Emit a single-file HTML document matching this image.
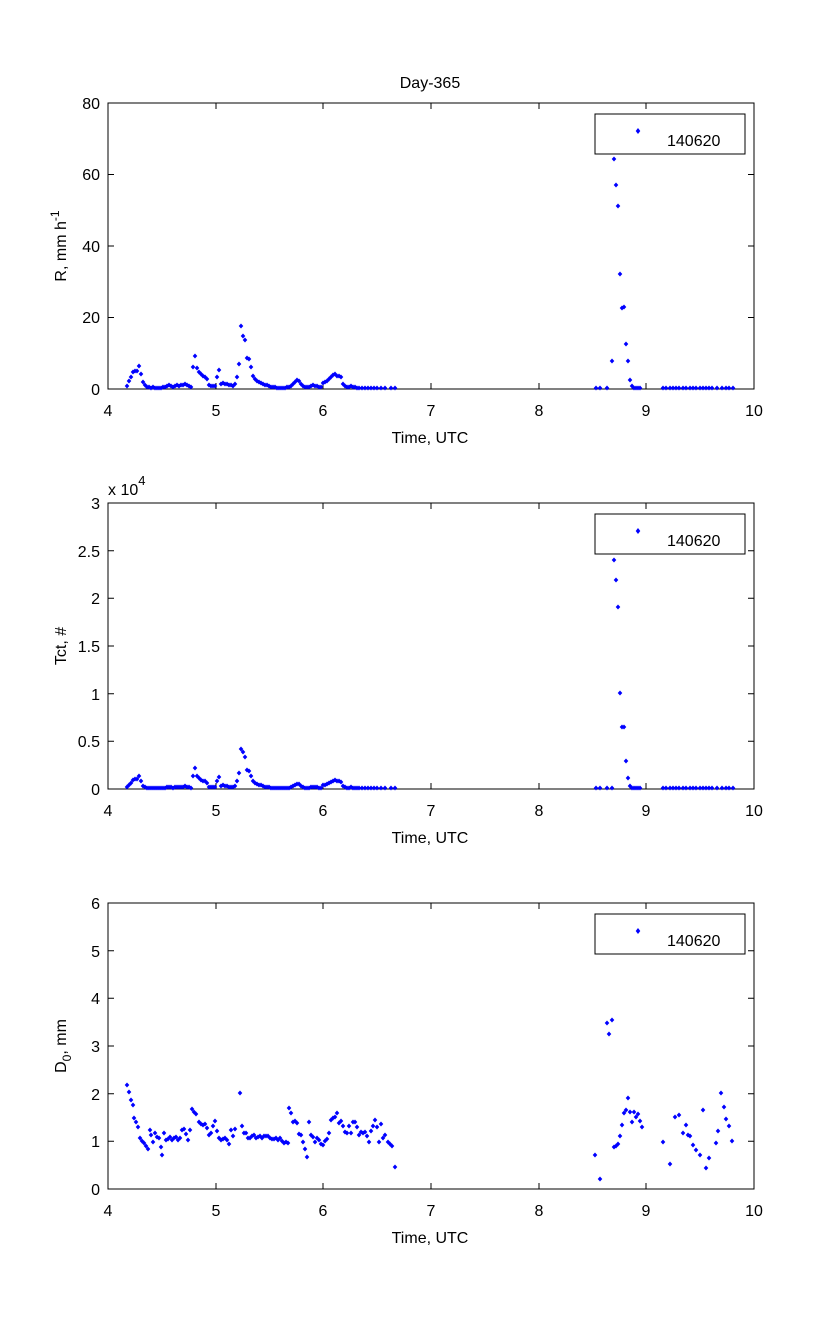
<!DOCTYPE html>
<html><head><meta charset="utf-8"><style>
body{margin:0;background:#fff}
svg text{font-family:"Liberation Sans",sans-serif;font-size:16px;fill:#000}
.d{fill:none;stroke:none;marker-start:url(#m);marker-mid:url(#m);marker-end:url(#m)}
</style></head><body>
<svg width="833" height="1334" xmlns="http://www.w3.org/2000/svg">
<defs><marker id="m" markerWidth="6" markerHeight="6" refX="3" refY="3" markerUnits="userSpaceOnUse"><path d="M3 0.5L5.3 3L3 5.5L0.7 3Z" fill="#00f"/></marker></defs>
<rect width="833" height="1334" fill="#fff"/>
<text x="430" y="88" text-anchor="middle">Day-365</text>

<!-- Plot 1 -->
<g stroke="#000" fill="none">
<rect x="108" y="103" width="646" height="286"/>
<path d="M108 389v-6M216 389v-6M323 389v-6M431 389v-6M539 389v-6M646 389v-6M754 389v-6M108 103v6M216 103v6M323 103v6M431 103v6M539 103v6M646 103v6M754 103v6
M108 389h6M108 317.5h6M108 246h6M108 174.5h6M108 103h6M754 389h-6M754 317.5h-6M754 246h-6M754 174.5h-6M754 103h-6"/>
</g>
<g text-anchor="middle"><text x="108" y="416">4</text><text x="216" y="416">5</text><text x="323" y="416">6</text><text x="431" y="416">7</text><text x="539" y="416">8</text><text x="646" y="416">9</text><text x="754" y="416">10</text></g>
<g text-anchor="end"><text x="100" y="395">0</text><text x="100" y="323">20</text><text x="100" y="252">40</text><text x="100" y="180">60</text><text x="100" y="109">80</text></g>
<text x="430" y="443" text-anchor="middle">Time, UTC</text>
<text transform="translate(66,246) rotate(-90)" text-anchor="middle">R, mm h<tspan dy="-7" font-size="12">-1</tspan></text>
<rect x="595" y="114" width="150" height="40" fill="#fff" stroke="#000"/>
<path d="M638 128l2.3 3l-2.3 3l-2.3-3z" fill="#00f"/>
<text x="667" y="146">140620</text>
<polyline class="d" points="127,386 129,381 131,377 133,372 135,371 137,371 139,366 141,374 143,382 145,385 147,387 149,387 151,388 153,387 155,388 157,388 159,388 161,388 163,387 165,387 167,386 169,385 171,386 173,387 175,386 177,385 179,386 181,385 183,385 185,384 187,385 189,386 191,387 193,367 195,356 197,368 199,372 201,374 203,376 205,377 207,379 209,385 211,386 213,386 215,386 217,377 219,370 221,384 223,383 225,384 227,384 229,385 231,385 233,386 235,384 237,377 239,364 241,326 243,336 245,340 247,358 249,359 251,367 253,376 255,379 257,381 259,382 261,383 263,384 265,385 267,385 269,386 271,387 273,387 275,387 277,388 279,388 281,388 283,388 285,388 287,387 289,387 291,386 293,384 295,382 297,380 299,381 301,384 303,386 305,387 307,387 309,387 311,386 313,385 315,386 317,386 319,387 321,387 323,383 325,382 327,381 329,379 331,377 333,375 335,374 337,376 339,376 341,377 343,384 345,386 347,387 349,387 351,386 353,387 355,387 357,388 359,388 362,388 365,388 368,388 371,388 374,388 377,388 381,388 385,388 391,388 395,388"/>
<polyline class="d" points="596,388 600,388 607,388 612,361 614,159 616,185 618,206 620,274 622,308 624,307 626,344 628,361 630,380 632,386 634,388 636,388 638,388 640,388"/>
<polyline class="d" points="663,388 666,388 670,388 673,388 676,388 679,388 683,388 686,388 690,388 693,388 696,388 700,388 703,388 706,388 709,388 712,388 717,388 722,388 726,388 729,388 733,388"/>

<!-- Plot 2 -->
<g stroke="#000" fill="none">
<rect x="108" y="503" width="646" height="286"/>
<path d="M108 789v-6M216 789v-6M323 789v-6M431 789v-6M539 789v-6M646 789v-6M754 789v-6M108 503v6M216 503v6M323 503v6M431 503v6M539 503v6M646 503v6M754 503v6
M108 789h6M108 741.3h6M108 693.7h6M108 646h6M108 598.3h6M108 550.7h6M108 503h6M754 789h-6M754 741.3h-6M754 693.7h-6M754 646h-6M754 598.3h-6M754 550.7h-6M754 503h-6"/>
</g>
<g text-anchor="middle"><text x="108" y="816">4</text><text x="216" y="816">5</text><text x="323" y="816">6</text><text x="431" y="816">7</text><text x="539" y="816">8</text><text x="646" y="816">9</text><text x="754" y="816">10</text></g>
<g text-anchor="end"><text x="100" y="795">0</text><text x="100" y="747">0.5</text><text x="100" y="700">1</text><text x="100" y="652">1.5</text><text x="100" y="604">2</text><text x="100" y="557">2.5</text><text x="100" y="509">3</text></g>
<text x="108" y="495">x 10<tspan dy="-10" font-size="13">4</tspan></text>
<text x="430" y="843" text-anchor="middle">Time, UTC</text>
<text transform="translate(66,646) rotate(-90)" text-anchor="middle">Tct, #</text>
<rect x="595" y="514" width="150" height="40" fill="#fff" stroke="#000"/>
<path d="M638 528l2.3 3l-2.3 3l-2.3-3z" fill="#00f"/>
<text x="667" y="546">140620</text>
<polyline class="d" points="127,787 129,785 131,783 133,780 135,779 137,779 139,776 141,781 143,786 145,787 147,788 149,788 151,788 153,788 155,788 157,788 159,788 161,788 163,788 165,788 167,787 169,787 171,787 173,788 175,787 177,787 179,787 181,787 183,787 185,786 187,787 189,787 191,788 193,776 195,768 197,776 199,778 201,780 203,781 205,781 207,783 209,787 211,787 213,787 215,787 217,781 219,777 221,786 223,785 225,786 227,786 229,787 231,787 233,787 235,786 237,781 239,773 241,749 243,752 245,757 247,770 249,771 251,776 253,781 255,783 257,784 259,785 261,785 263,786 265,787 267,787 269,787 271,788 273,788 275,788 277,788 279,788 281,788 283,788 285,788 287,788 289,788 291,787 293,786 295,785 297,784 299,784 301,786 303,787 305,788 307,788 309,788 311,787 313,787 315,787 317,787 319,788 321,788 323,785 325,785 327,784 329,783 331,782 333,781 335,780 337,781 339,781 341,782 343,786 345,787 347,788 349,788 351,787 353,788 355,788 357,788 359,788 362,788 365,788 368,788 371,788 374,788 377,788 381,788 385,788 391,788 395,788"/>
<polyline class="d" points="596,788 600,788 607,788 612,788 614,560 616,580 618,607 620,693 622,727 624,727 626,761 628,778 630,786 632,788 634,788 636,788 638,788 640,788"/>
<polyline class="d" points="663,788 666,788 670,788 673,788 676,788 679,788 683,788 686,788 690,788 693,788 696,788 700,788 703,788 706,788 709,788 712,788 717,788 722,788 726,788 729,788 733,788"/>

<!-- Plot 3 -->
<g stroke="#000" fill="none">
<rect x="108" y="903" width="646" height="286"/>
<path d="M108 1189v-6M216 1189v-6M323 1189v-6M431 1189v-6M539 1189v-6M646 1189v-6M754 1189v-6M108 903v6M216 903v6M323 903v6M431 903v6M539 903v6M646 903v6M754 903v6
M108 1189h6M108 1141.3h6M108 1093.7h6M108 1046h6M108 998.3h6M108 950.7h6M108 903h6M754 1189h-6M754 1141.3h-6M754 1093.7h-6M754 1046h-6M754 998.3h-6M754 950.7h-6M754 903h-6"/>
</g>
<g text-anchor="middle"><text x="108" y="1216">4</text><text x="216" y="1216">5</text><text x="323" y="1216">6</text><text x="431" y="1216">7</text><text x="539" y="1216">8</text><text x="646" y="1216">9</text><text x="754" y="1216">10</text></g>
<g text-anchor="end"><text x="100" y="1195">0</text><text x="100" y="1147">1</text><text x="100" y="1100">2</text><text x="100" y="1052">3</text><text x="100" y="1004">4</text><text x="100" y="957">5</text><text x="100" y="909">6</text></g>
<text x="430" y="1243" text-anchor="middle">Time, UTC</text>
<text transform="translate(66,1046) rotate(-90)" text-anchor="middle">D<tspan dy="5" font-size="12">0</tspan><tspan dy="-5">, mm</tspan></text>
<rect x="595" y="914" width="150" height="40" fill="#fff" stroke="#000"/>
<path d="M638 928l2.3 3l-2.3 3l-2.3-3z" fill="#00f"/>
<text x="667" y="946">140620</text>
<polyline class="d" points="127,1085 129,1092 131,1100 133,1105 134,1118 136,1122 138,1127 140,1138 142,1141 144,1143 146,1146 148,1149 150,1130 151,1135 153,1142 155,1133 157,1137 159,1138 161,1147 162,1155 164,1133 166,1140 168,1139 170,1137 172,1140 174,1138 176,1137 178,1140 180,1138 182,1130 184,1129 186,1134 188,1140 190,1130 192,1109 194,1112 196,1114 199,1122 201,1124 203,1125 205,1124 207,1128 209,1135 211,1133 213,1126 215,1121 217,1131 219,1138 221,1140 223,1139 225,1138 227,1140 229,1144 231,1130 233,1136 235,1129 240,1093 242,1126 244,1133 246,1133 248,1138 250,1138 252,1136 254,1135 256,1138 258,1137 260,1136 262,1138 264,1136 266,1136 268,1136 270,1138 272,1139 274,1139 276,1138 278,1140 280,1138 282,1141 284,1143 286,1142 288,1143 289,1108 291,1113 293,1122 295,1121 297,1123 299,1134 301,1135 303,1142 305,1149 307,1157 309,1122 311,1135 313,1137 315,1142 317,1138 319,1140 321,1144 323,1145 325,1141 327,1139 329,1133 331,1120 333,1118 335,1117 337,1113 339,1123 341,1121 343,1126 345,1132 347,1133 349,1126 351,1133 353,1122 355,1122 357,1127 359,1135 361,1132 363,1133 365,1132 367,1136 369,1142 371,1131 373,1126 375,1120 377,1127 379,1142 381,1124 383,1138 385,1135 388,1142 390,1144 392,1146 395,1167"/>
<polyline class="d" points="595,1155 600,1179 607,1023 609,1034 612,1020 614,1147 616,1146 618,1144 620,1136 622,1125 624,1113 626,1110 628,1098 630,1112 632,1122 634,1112 636,1117 638,1114 640,1121 642,1127"/>
<polyline class="d" points="663,1142 670,1164 675,1117 679,1115 683,1133 686,1125 688,1135 690,1136 693,1145 696,1150 700,1155 703,1110 706,1168 709,1158 716,1143 718,1131 721,1093 724,1107 726,1119 729,1126 732,1141"/>
</svg>
</body></html>
